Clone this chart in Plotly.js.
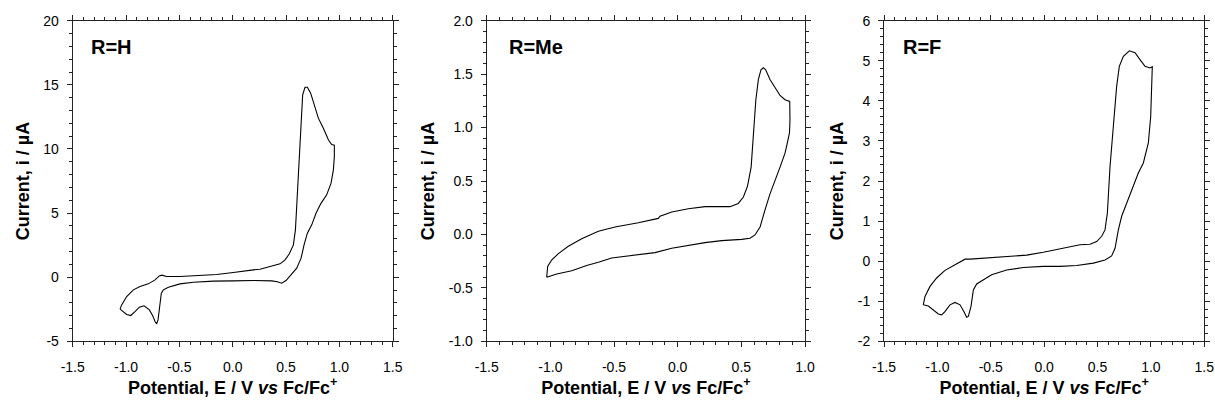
<!DOCTYPE html>
<html>
<head>
<meta charset="utf-8">
<script src="https://cdn.plot.ly/plotly-3.0.1.min.js"></script>
<style>html,body{margin:0;padding:0;background:#fff;}#chart{width:1215px;height:407px;}</style>
</head>
<body>
<div id="chart"></div>
<script>
// ---------- Data (potential in V vs Fc/Fc+, current in µA) ----------
const panelLabels = ["R=H", "R=Me", "R=F"];

const hE = [-1.056,-1.041,-0.994,-0.931,-0.869,-0.791,-0.728,-0.688,-0.666,-0.619,-0.494,-0.306,-0.150,0.006,0.100,0.194,0.256,0.319,0.381,0.444,0.491,0.531,0.569,0.588,0.600,0.616,0.631,0.644,0.656,0.678,0.700,0.731,0.772,0.803,0.850,0.897,0.928,0.953,0.953,0.944,0.922,0.881,0.825,0.781,0.741,0.700,0.669,0.641,0.600,0.544,0.500,0.459,0.419,0.366,0.194,0.006,-0.181,-0.369,-0.494,-0.603,-0.650,-0.669,-0.681,-0.700,-0.713,-0.728,-0.750,-0.781,-0.831,-0.875,-0.916,-0.956,-0.994,-1.031,-1.056];
const hI = [-2.49,-2.16,-1.51,-0.99,-0.73,-0.52,-0.21,0.10,0.16,0.05,0.05,0.13,0.21,0.36,0.49,0.57,0.62,0.78,0.91,1.04,1.35,1.82,2.52,3.69,5.51,8.11,10.71,13.05,14.22,14.81,14.81,14.35,13.31,12.40,11.62,10.71,10.34,10.29,9.41,8.37,7.33,6.42,5.72,4.99,4.08,3.43,2.52,1.48,0.70,0.18,-0.26,-0.47,-0.36,-0.29,-0.26,-0.29,-0.31,-0.39,-0.52,-0.78,-0.99,-1.25,-2.03,-3.33,-3.64,-3.46,-3.01,-2.55,-2.23,-2.34,-2.68,-2.99,-2.91,-2.68,-2.49];

const meE = [-1.029,-1.021,-0.990,-0.937,-0.859,-0.754,-0.623,-0.492,-0.309,-0.152,-0.139,-0.047,0.084,0.215,0.411,0.476,0.516,0.548,0.577,0.598,0.614,0.634,0.654,0.673,0.691,0.725,0.764,0.804,0.843,0.880,0.882,0.878,0.860,0.843,0.804,0.764,0.725,0.686,0.647,0.607,0.568,0.503,0.346,0.215,0.084,-0.047,-0.178,-0.309,-0.518,-0.623,-0.715,-0.832,-0.950,-1.029];
const meI = [-0.401,-0.30,-0.24,-0.18,-0.11,-0.04,0.03,0.07,0.11,0.15,0.17,0.21,0.24,0.26,0.26,0.29,0.35,0.45,0.63,0.95,1.26,1.45,1.54,1.56,1.54,1.45,1.37,1.30,1.26,1.245,1.07,0.95,0.85,0.76,0.63,0.51,0.38,0.23,0.07,-0.005,-0.036,-0.046,-0.058,-0.077,-0.105,-0.13,-0.17,-0.19,-0.22,-0.26,-0.29,-0.34,-0.37,-0.401];

const fE = [-1.132,-1.116,-1.069,-1.007,-0.929,-0.851,-0.804,-0.741,-0.694,-0.476,-0.164,-0.008,0.148,0.273,0.336,0.429,0.492,0.539,0.570,0.592,0.617,0.648,0.679,0.704,0.742,0.798,0.851,0.898,0.945,0.991,1.013,1.007,0.998,0.976,0.929,0.882,0.835,0.773,0.726,0.695,0.664,0.632,0.570,0.461,0.305,0.148,-0.008,-0.195,-0.351,-0.492,-0.570,-0.632,-0.663,-0.685,-0.710,-0.726,-0.751,-0.788,-0.835,-0.882,-0.929,-0.960,-0.991,-1.038,-1.085,-1.132];
const fI = [-1.09,-0.88,-0.63,-0.42,-0.23,-0.12,-0.05,0.05,0.05,0.09,0.15,0.22,0.30,0.37,0.41,0.42,0.49,0.62,0.78,1.20,2.36,3.36,4.36,4.86,5.11,5.25,5.20,5.03,4.86,4.82,4.85,4.36,3.61,2.95,2.45,2.20,1.87,1.45,1.12,0.78,0.32,0.13,0.03,-0.05,-0.11,-0.13,-0.13,-0.16,-0.22,-0.34,-0.47,-0.57,-0.72,-1.13,-1.38,-1.40,-1.26,-1.09,-1.03,-1.09,-1.26,-1.34,-1.32,-1.22,-1.12,-1.09];

// Tick values and labels
const xTickValsA = [-1.5,-1.0,-0.5,0.0,0.5,1.0,1.5];
const xTickTextA = ["-1.5","-1.0","-0.5","0.0","0.5","1.0","1.5"];
const xTickValsB = [-1.5,-1.0,-0.5,0.0,0.5,1.0];
const xTickTextB = ["-1.5","-1.0","-0.5","0.0","0.5","1.0"];
const yTickValsH = [-5,0,5,10,15,20];
const yTickTextH = ["-5","0","5","10","15","20"];
const yTickValsMe = [-1.0,-0.5,0.0,0.5,1.0,1.5,2.0];
const yTickTextMe = ["-1.0","-0.5","0.0","0.5","1.0","1.5","2.0"];
const yTickValsF = [-2,-1,0,1,2,3,4,5,6];
const yTickTextF = ["-2","-1","0","1","2","3","4","5","6"];

const xTitle = "<b>Potential, E / V <i>vs</i> Fc/Fc<sup>+</sup></b>";
const yTitle = "<b>Current, i / µA</b>";

// ---------- Panel configuration (layout only) ----------
const panels = [
  {E: hE, I: hI, xr: [-1.5, 1.5], yr: [-5, 20], xtv: xTickValsA, xtt: xTickTextA, ytv: yTickValsH, ytt: yTickTextH, xminor: 0.1, yminor: 1, dom: [72.7, 392.7], lab: 89},
  {E: meE, I: meI, xr: [-1.5, 1.0], yr: [-1.0, 2.0], xtv: xTickValsB, xtt: xTickTextB, ytv: yTickValsMe, ytt: yTickTextMe, xminor: 0.1, yminor: 0.1, dom: [486.7, 805], lab: 506.5},
  {E: fE, I: fI, xr: [-1.5, 1.5], yr: [-2, 6], xtv: xTickValsA, xtt: xTickTextA, ytv: yTickValsF, ytt: yTickTextF, xminor: 0.1, yminor: 0.2, dom: [884, 1204.3], lab: 900.5}
];

const W = 1215, H = 407;
const yDom = [1 - 341.3 / H, 1 - 20.7 / H];
const FONT = "Liberation Sans, Arial, sans-serif";
const tickFont = {family: FONT, size: 14, color: "#000"};
const titleFont = {family: FONT, size: 18, color: "#000"};

const traces = [];
const layout = {
  width: W, height: H,
  margin: {l: 0, r: 0, t: 0, b: 0},
  paper_bgcolor: "#fff", plot_bgcolor: "#fff",
  showlegend: false,
  annotations: []
};

panels.forEach((p, k) => {
  const n = k + 1;
  const xs = n === 1 ? "" : String(n);
  const xDom = [p.dom[0] / W, p.dom[1] / W];
  traces.push({
    type: "scatter", mode: "lines",
    x: p.E, y: p.I,
    xaxis: "x" + xs, yaxis: "y" + xs,
    line: {color: "#000", width: 1.1},
    hoverinfo: "skip"
  });
  const common = {showgrid: false, zeroline: false, showline: true, mirror: "allticks", linecolor: "#222", linewidth: 1, tickcolor: "#222", tickwidth: 1, fixedrange: true};
  layout["xaxis" + xs] = Object.assign({}, common, {
    domain: xDom, anchor: "y" + xs, range: p.xr,
    tickmode: "array", tickvals: p.xtv, ticktext: p.xtt,
    ticks: "outside", ticklen: 5, tickfont: tickFont, ticklabelstandoff: 8,
    minor: {ticks: "outside", ticklen: 3, tickmode: "linear", tick0: 0, dtick: p.xminor, tickcolor: "#222"},
    title: {text: xTitle, font: titleFont, standoff: 4}
  });
  layout["yaxis" + xs] = Object.assign({}, common, {
    domain: yDom, anchor: "x" + xs, range: p.yr,
    tickmode: "array", tickvals: p.ytv, ticktext: p.ytt,
    ticks: "outside", ticklen: 5, tickfont: tickFont, ticklabelstandoff: 5,
    minor: {ticks: "outside", ticklen: 3, tickmode: "linear", tick0: 0, dtick: p.yminor, tickcolor: "#222"},
    title: {text: yTitle, font: titleFont, standoff: 9}
  });
  layout.annotations.push({
    text: "<b>" + panelLabels[k] + "</b>", xref: "paper", yref: "paper",
    x: p.lab / W, y: 1 - 47 / H, xanchor: "left", yanchor: "middle",
    showarrow: false, font: {family: FONT, size: 20, color: "#000"}
  });
});

Plotly.newPlot("chart", traces, layout, {displayModeBar: false, staticPlot: true});
</script>
</body>
</html>
